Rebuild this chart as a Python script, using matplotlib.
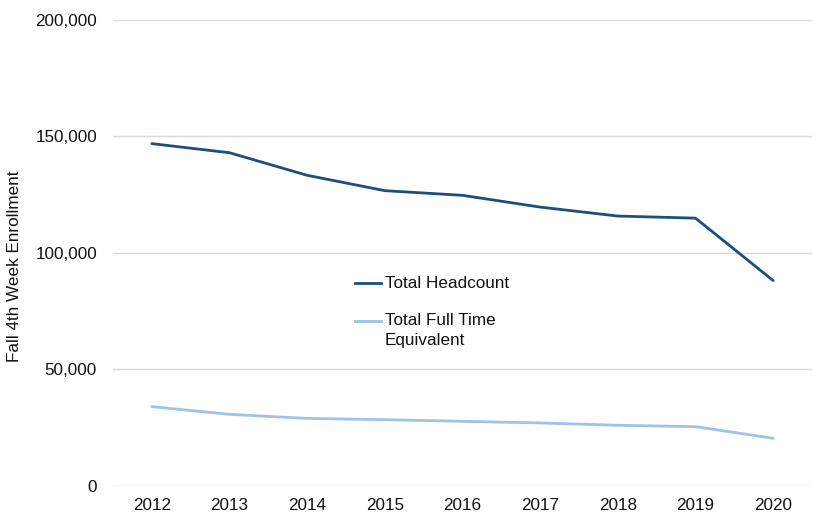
import matplotlib
matplotlib.use("Agg")
import matplotlib.pyplot as plt
from matplotlib.lines import Line2D
from matplotlib.ticker import FuncFormatter

years = ["2012", "2013", "2014", "2015", "2016", "2017", "2018", "2019", "2020"]
headcount = [146900, 143000, 133300, 126700, 124700, 119650, 115800, 114900, 88100]
fte = [33950, 30650, 28900, 28350, 27650, 26950, 25950, 25350, 20350]
series_labels = ["Total Headcount", "Total Full Time\nEquivalent"]
series_colors = ['#1F4E79', '#9DC3E6']
y_label = "Fall 4th Week Enrollment"
y_ticks = [0, 50000, 100000, 150000, 200000]

plt.rcParams['font.family'] = ['Liberation Sans', 'DejaVu Sans']
FS = 12.3
TXT = '#111111'

W, H = 813, 514
AX_L, AX_R, AX_T, AX_B = 113, 812, 20, 485.7
fig = plt.figure(figsize=(W/100, H/100), dpi=100)
ax = fig.add_axes([AX_L/W, 1-AX_B/H, (AX_R-AX_L)/W, (AX_B-AX_T)/H])

x = list(range(len(years)))
ax.plot(x, headcount, color=series_colors[0], lw=2.0, solid_capstyle='round', zorder=3)
ax.plot(x, fte, color=series_colors[1], lw=2.0, solid_capstyle='round', zorder=3)

ax.set_xlim(-0.5, len(years) - 0.5)
ax.set_ylim(0, 200000)
ax.set_yticks(y_ticks)
ax.yaxis.set_major_formatter(FuncFormatter(lambda v, p: f"{int(v):,}"))
ax.set_xticks(x)
ax.set_xticklabels(years)
ax.tick_params(axis='both', length=0, labelsize=FS, labelcolor=TXT)
ax.tick_params(axis='y', pad=11.5)
ax.tick_params(axis='x', pad=8.8)
ax.grid(axis='y', color='#d9d9d9', lw=1.0)
ax.set_axisbelow(True)
for s in ax.spines.values():
    s.set_visible(False)

fig.text(15/W, 1-266/H, y_label, rotation=90, ha='center', va='center', fontsize=FS, color=TXT)

# legend (manual, to align handle with first line of wrapped label)
def ax_xy(px, py):
    return ((px-AX_L)/(AX_R-AX_L), (AX_B-py)/(AX_B-AX_T))

leg_rows = [(283, 283), (321, 330.5)]  # (handle y, text center y) in pixels
for (hy, ty), lab, col in zip(leg_rows, series_labels, series_colors):
    x0, y0 = ax_xy(355, hy)
    x1, _ = ax_xy(381, hy)
    ax.add_line(Line2D([x0, x1], [y0, y0], transform=ax.transAxes, color=col, lw=2.0, clip_on=False))
    tx, tyy = ax_xy(385, ty)
    ax.text(tx, tyy, lab, transform=ax.transAxes, ha='left', va='center', fontsize=FS,
            color=TXT, linespacing=1.38)

fig.savefig("out.png", dpi=100)
